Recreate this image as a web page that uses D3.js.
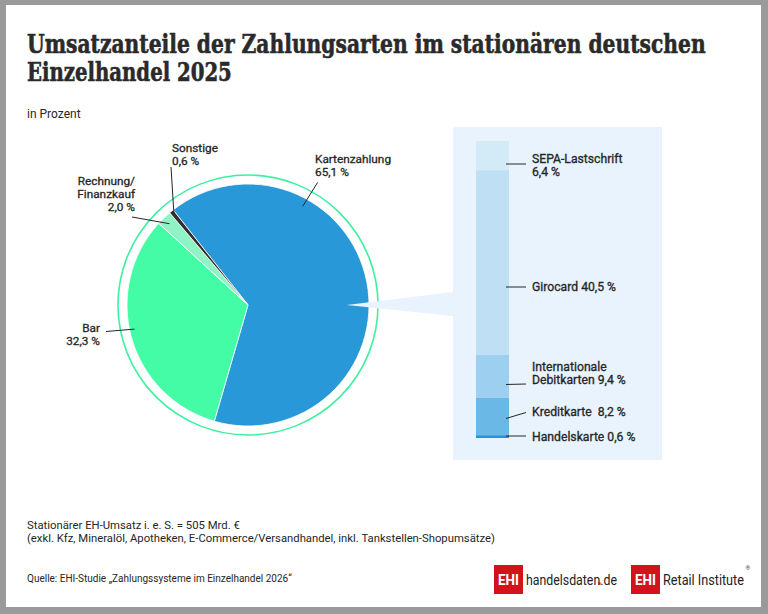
<!DOCTYPE html>
<html><head><meta charset="utf-8">
<script src="https://cdn.jsdelivr.net/npm/d3@7"></script>
<style>html,body{margin:0;padding:0;background:#fff;}svg{display:block;}</style>
</head><body>
<svg id="c" width="768" height="614"></svg>
<script>
// ---- data ----
const pieCategories = ["Kartenzahlung", "Bar", "Rechnung/Finanzkauf", "Sonstige"];
const pieValues = [65.1, 32.3, 2.0, 0.6];
const pieLabels = [["Kartenzahlung", "65,1 %"], ["Bar", "32,3 %"], ["Rechnung/", "Finanzkauf", "2,0 %"], ["Sonstige", "0,6 %"]];
const cardCategories = ["SEPA-Lastschrift", "Girocard", "Internationale Debitkarten", "Kreditkarte", "Handelskarte"];
const cardValues = [6.4, 40.5, 9.4, 8.2, 0.6];
const cardLabels = [["SEPA-Lastschrift", "6,4 %"], ["Girocard 40,5 %"], ["Internationale", "Debitkarten 9,4 %"], ["Kreditkarte  8,2 %"], ["Handelskarte 0,6 %"]];
const titleLines = ["Umsatzanteile der Zahlungsarten im stationären deutschen", "Einzelhandel 2025"];
const subtitle = "in Prozent";
const footnotes = ["Stationärer EH-Umsatz i. e. S. = 505 Mrd. €", "(exkl. Kfz, Mineralöl, Apotheken, E-Commerce/Versandhandel, inkl. Tankstellen-Shopumsätze)"];
const source = "Quelle: EHI-Studie „Zahlungssysteme im Einzelhandel 2026“";

// ---- layout / style ----
const W = 768, H = 614;
const font = "Roboto, 'Noto Sans', sans-serif";
const ink = "#262626";
const pieColors = ["#2898d8", "#45fca6", "#8ff3c6", "#2e2e2e"];
const cardColors = ["#d3eaf7", "#bfe0f4", "#9ccff0", "#6ab8e6", "#1f93e6"];
const cx = 248, cy = 305, R = 121, ringR = 130;
const panel = {x: 453, y: 127, w: 209, h: 333};
const bar = {x: 476, w: 33, top: 141, bottom: 438};
const lblSize = 11.8, lblGap = 13.4;

const svg = d3.select("#c");
svg.append("rect").attr("width", W).attr("height", H).attr("fill", "#9a9a9a");
svg.append("rect").attr("x", 6).attr("y", 5).attr("width", 755).attr("height", 602).attr("fill", "#fff");

// helper: text squeezed horizontally to a target width via transform
function fitText(parent, str, x, yb, width, attrs) {
  const g = parent.append("g");
  const t = g.append("text").attr("x", 0).attr("y", 0).text(str);
  Object.entries(attrs).forEach(([k, v]) => t.attr(k, v));
  const w = t.node().getComputedTextLength();
  const k = Math.min(1.15, width / w);
  g.attr("transform", `translate(${x},${yb}) scale(${k},1)`);
  return t;
}

// title
const titleWidths = [679, 205];
titleLines.forEach((s, i) => fitText(svg, s, 27, 53 + i * 27.5, titleWidths[i], {
  "font-family": "'DejaVu Serif', serif", "font-weight": "bold", "font-size": 25.5,
  "fill": "#2a2a2a", "stroke": "#2a2a2a", "stroke-width": 0.6
}));
svg.append("text").attr("x", 27).attr("y", 118).attr("font-family", font)
  .attr("font-size", 12).attr("fill", ink).text(subtitle);

// ---- pie ----
const deg = Math.PI / 180;
const pie = d3.pie().sort(null).value(d => d)
  .startAngle(-38.2 * deg).endAngle(-38.2 * deg + 2 * Math.PI);
const arcs = pie(pieValues);
const arc = d3.arc().innerRadius(0).outerRadius(R);
const gp = svg.append("g").attr("transform", `translate(${cx},${cy})`);
gp.append("circle").attr("r", ringR).attr("fill", "none").attr("stroke", "#3ef0a0").attr("stroke-width", 1.6);
gp.selectAll("path").data(arcs).join("path")
  .attr("d", arc).attr("fill", (d, i) => pieColors[i])
  .attr("stroke", "#fff").attr("stroke-width", 0.8);

// connector wedge from pie to panel
const tipX = cx + R * 0.815;
const wedge = d3.line()([[tipX, cy], [panel.x, cy - 13], [panel.x, cy + 11]]);
svg.append("path").attr("d", wedge + "Z").attr("fill", "#e8f3fd");

// pie labels
const polar = (a, r) => [cx + r * Math.sin(a * deg), cy - r * Math.cos(a * deg)];
const pieLabelLayout = [
  {a: 29, r0: 113, end: polar(29.6, 141), tx: 315, ty: 162.5, anchor: "start"},
  {a: 258, r0: 116, end: [106, 331.5], tx: 100, ty: 331.5, anchor: "end"},
  {a: -44, r0: 113, end: [132, 217], tx: 135, ty: 184.5, anchor: "end"},
  {a: -38.9, r0: 118, end: [171, 167], tx: 172, ty: 151.5, anchor: "start"}
];
const gl = svg.append("g");
pieLabelLayout.forEach((L, i) => {
  const p0 = polar(L.a, L.r0);
  gl.append("line").attr("x1", p0[0]).attr("y1", p0[1]).attr("x2", L.end[0]).attr("y2", L.end[1])
    .attr("stroke", ink).attr("stroke-width", 1);
  const t = gl.append("text").attr("font-family", font).attr("font-size", lblSize)
    .attr("fill", ink).attr("stroke", ink).attr("stroke-width", 0.3).attr("text-anchor", L.anchor);
  pieLabels[i].forEach((s, j) => t.append("tspan").attr("x", L.tx).attr("y", L.ty + j * lblGap).text(s));
});

// ---- breakdown panel ----
svg.append("rect").attr("x", panel.x).attr("y", panel.y).attr("width", panel.w).attr("height", panel.h).attr("fill", "#e8f3fd");
const total = d3.sum(cardValues);
const y = d3.scaleLinear().domain([0, total]).range([bar.top, bar.bottom]);
const stack = [];
cardValues.reduce((acc, v, i) => { stack.push({i, y0: acc, y1: acc + v}); return acc + v; }, 0);
svg.append("g").selectAll("rect").data(stack).join("rect")
  .attr("x", bar.x).attr("width", bar.w)
  .attr("y", d => y(d.y0)).attr("height", d => y(d.y1) - y(d.y0))
  .attr("fill", d => cardColors[d.i]);

const cardLabelLayout = [
  {y0: 164, y1: 164, ty: 163},
  {y0: 287, y1: 287, ty: 290.5},
  {y0: 384.5, y1: 384, ty: 371},
  {y0: 418.5, y1: 412.5, ty: 415.5},
  {y0: 436, y1: 436, ty: 440.5}
];
const gc = svg.append("g");
cardLabelLayout.forEach((L, i) => {
  gc.append("line").attr("x1", bar.x + bar.w - 3).attr("x2", bar.x + bar.w + 17)
    .attr("y1", L.y0).attr("y2", L.y1).attr("stroke", ink).attr("stroke-width", 1);
  const t = gc.append("text").attr("font-family", font).attr("font-size", 12.2)
    .attr("fill", ink).attr("stroke", ink).attr("stroke-width", 0.3)
    .attr("xml:space", "preserve").style("white-space", "pre");
  cardLabels[i].forEach((s, j) => t.append("tspan").attr("x", bar.x + bar.w + 23).attr("y", L.ty + j * lblGap).text(s));
});

// ---- footer ----
svg.append("g").selectAll("text").data(footnotes).join("text")
  .attr("x", 27).attr("y", (d, i) => 528.5 + i * 13)
  .attr("font-family", font).attr("font-size", 11.3).attr("fill", ink).text(d => d);
svg.append("text").attr("x", 27).attr("y", 582).attr("font-family", font)
  .attr("font-size", 10).attr("fill", ink).text(source);

// logos
const logos = [{x: 494, text: "handelsdaten.de", w: 91}, {x: 631, text: "Retail Institute", w: 81}];
logos.forEach(L => {
  svg.append("rect").attr("x", L.x).attr("y", 565).attr("width", 29).attr("height", 29).attr("fill", "#d2131c");
  fitText(svg, "EHI", L.x + 4, 585, 21, {"font-family": font, "font-weight": "bold", "font-size": 15, "fill": "#fff"});
  fitText(svg, L.text, L.x + 32, 585, L.w, {"font-family": font, "font-size": 15.5, "fill": "#222"});
});
// red dot of "handelsdaten.de"
svg.append("rect").attr("x", 598.2).attr("y", 582.3).attr("width", 2.3).attr("height", 2.6).attr("fill", "#d2131c");
svg.append("text").attr("x", 745.5).attr("y", 570).attr("font-family", font).attr("font-size", 6).attr("fill", "#444").text("®");
</script>
</body></html>
